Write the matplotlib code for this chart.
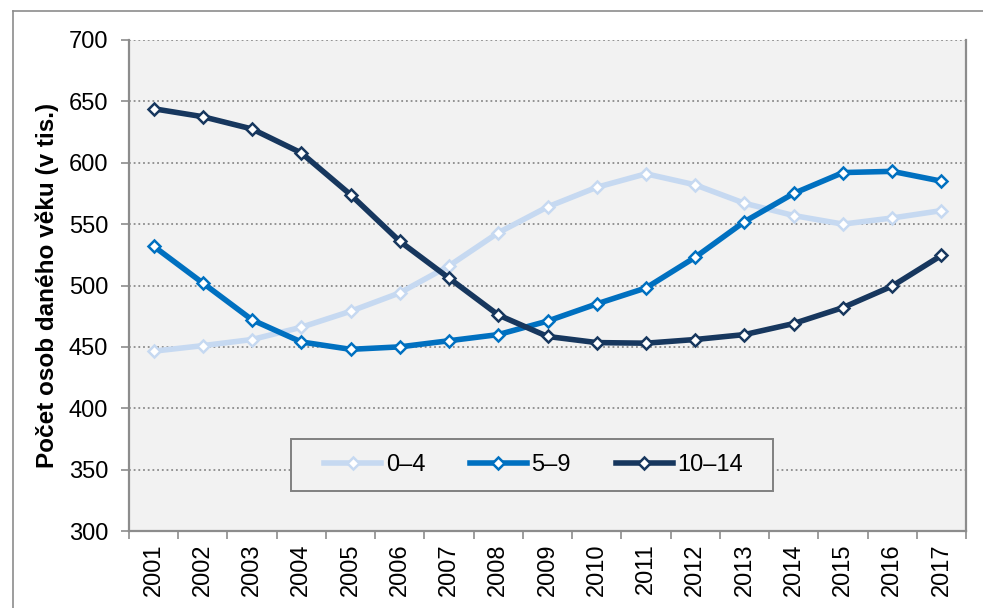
import matplotlib
matplotlib.use("Agg")
from matplotlib import pyplot as plt
from matplotlib.lines import Line2D
from matplotlib.patches import Rectangle
import numpy as np

plt.rcParams['font.family'] = ['Liberation Sans', 'DejaVu Sans']

years = ['2001', '2002', '2003', '2004', '2005', '2006', '2007', '2008', '2009',
         '2010', '2011', '2012', '2013', '2014', '2015', '2016', '2017']
age_0_4 = [446.5, 451, 456, 466, 479, 494, 516, 543, 564, 580, 591, 582, 567, 557, 550, 555, 561]
age_5_9 = [532, 502, 472, 454, 448, 450, 455, 460, 471, 485, 498, 523, 552, 575, 592, 593, 585]
age_10_14 = [644, 637.5, 627.5, 608, 574, 536, 506, 476, 458.5, 453.5, 453, 456, 460, 469, 482, 499.5, 524.5]
series_names = ['0\u20134', '5\u20139', '10\u201314']
series_colors = ['#C6D9F1', '#0070C0', '#17375E']
yticks = [300, 350, 400, 450, 500, 550, 600, 650, 700]

W, H = 983, 608
fig = plt.figure(figsize=(W / 100, H / 100), dpi=100)
fig.patch.set_facecolor('white')

# outer chart frame (cut off at right and bottom)
fig.add_artist(Line2D([13 / W, 13 / W], [0, 1 - 11 / H], transform=fig.transFigure,
                      color='#8C8C8C', lw=1.2))
fig.add_artist(Line2D([13 / W, 1], [1 - 11 / H, 1 - 11 / H], transform=fig.transFigure,
                      color='#8C8C8C', lw=1.2))

left, right, top, bottom = 129, 966, 40, 531
ax = fig.add_axes([left / W, 1 - bottom / H, (right - left) / W, (bottom - top) / H])
ax.set_facecolor('#F2F2F2')

x = np.arange(len(years))
for vals, name, col in zip([age_0_4, age_5_9, age_10_14], series_names, series_colors):
    ax.plot(x, vals, color=col, lw=4, marker='D', markersize=6.3,
            markerfacecolor='white', markeredgecolor=col, markeredgewidth=1.8,
            label=name, zorder=3)

ax.set_ylim(300, 700)
ax.set_xlim(-0.5, len(years) - 0.5)
ax.set_yticks(yticks)
ax.set_yticklabels([str(v) for v in yticks], fontsize=17)
ax.tick_params(axis='y', length=6, width=1.2, color='#8C8C8C', pad=9)

ax.set_xticks(np.arange(-0.5, len(years), 1))
ax.set_xticklabels([])
ax.tick_params(axis='x', which='major', length=6, width=1.2, color='#8C8C8C', direction='out')
ax.set_xticks(x, minor=True)
ax.set_xticklabels(years, minor=True, rotation=90, fontsize=17)
ax.tick_params(axis='x', which='minor', length=0, pad=9)

ax.grid(axis='y', color='#8C8C8C', lw=1.3, linestyle=(0, (1, 1.6)))
ax.set_axisbelow(True)

for s in ['left', 'bottom', 'right']:
    ax.spines[s].set_color('#8C8C8C')
    ax.spines[s].set_linewidth(1.6)
ax.spines['top'].set_visible(False)

ax.set_ylabel('Počet osob daného věku (v tis.)', fontsize=17.5, fontweight='bold')
ax.yaxis.set_label_coords(-0.084, 0.5)

# legend box drawn separately, wider than matplotlib's own padding
ax.add_patch(Rectangle((0.1935, 0.0815), 0.5759, 0.1059, transform=ax.transAxes,
                       facecolor='#F2F2F2', edgecolor='#808080', lw=1.4, zorder=4))
leg = ax.legend(loc='center', bbox_to_anchor=(0.4835, 0.1344), ncol=3, fontsize=17,
                frameon=False, handlelength=2.4, handletextpad=0.2,
                columnspacing=1.9, borderaxespad=0)
leg.set_zorder(5)

fig.savefig('out.png', dpi=100)
